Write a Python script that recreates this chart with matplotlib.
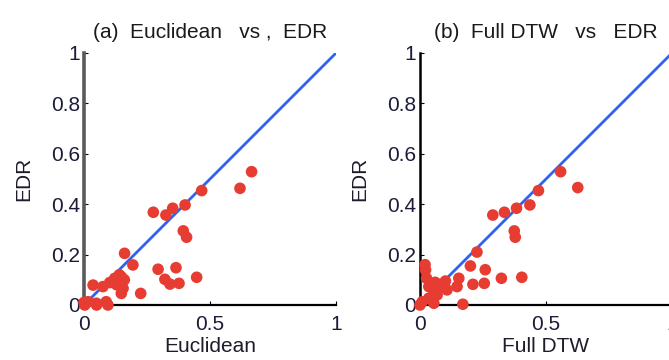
import matplotlib
matplotlib.use('Agg')
from matplotlib import pyplot as plt

plt.rcParams['font.family'] = ['Liberation Sans', 'DejaVu Sans']

# (a) Euclidean vs EDR
euc_x = [0.665, 0.619, 0.467, 0.401, 0.352, 0.325, 0.275, 0.394, 0.407, 0.161,
         0.194, 0.294, 0.365, 0.447, 0.321, 0.341, 0.377, 0.225, 0.036, 0.075,
         0.102, 0.122, 0.148, 0.135, 0.155, 0.148, 0.130, 0.016, 0.049, 0.088,
         0.003, 0.050, 0.095, 0.000, 0.160, 0.140]
euc_y = [0.529, 0.463, 0.454, 0.397, 0.384, 0.357, 0.368, 0.294, 0.269, 0.205,
         0.159, 0.142, 0.148, 0.110, 0.102, 0.083, 0.086, 0.046, 0.079, 0.073,
         0.089, 0.106, 0.112, 0.086, 0.066, 0.046, 0.080, 0.013, 0.007, 0.013,
         0.000, 0.000, 0.000, 0.010, 0.100, 0.120]

# (b) Full DTW vs EDR
dtw_x = [0.558, 0.626, 0.470, 0.436, 0.383, 0.335, 0.289, 0.374, 0.378, 0.226,
         0.200, 0.259, 0.323, 0.404, 0.210, 0.255, 0.170, 0.154, 0.147, 0.022,
         0.026, 0.035, 0.055, 0.081, 0.101, 0.107, 0.068, 0.035, 0.009, 0.000,
         0.055, 0.020, 0.090, 0.060]
dtw_y = [0.529, 0.466, 0.454, 0.397, 0.384, 0.368, 0.357, 0.294, 0.269, 0.210,
         0.155, 0.140, 0.106, 0.110, 0.082, 0.086, 0.003, 0.106, 0.073, 0.139,
         0.106, 0.073, 0.060, 0.082, 0.095, 0.060, 0.040, 0.027, 0.013, 0.000,
         0.007, 0.160, 0.070, 0.090]

diag = [0, 1]
xticks = [0, 0.5, 1]
xticklabels = ['0', '0.5', '1']
yticks = [0, 0.2, 0.4, 0.6, 0.8, 1]
yticklabels = ['0', '0.2', '0.4', '0.6', '0.8', '1']

panels = [
    ('(a)  Euclidean   vs ,  EDR', 'Euclidean', euc_x, euc_y, 84, '#5a5a5a', 2.6),
    ('(b)  Full DTW   vs   EDR', 'Full DTW', dtw_x, dtw_y, 420, 'black', 1.8),
]

W, H = 669, 360
fig = plt.figure(figsize=(W / 100, H / 100), dpi=100)
tcol = '#1c1c3a'
fs = 15

for title, xlab, xs, ys, left_px, spcol, splw in panels:
    ax = fig.add_axes([left_px / W, 55 / H, 252 / W, 252 / H])
    ax.plot(diag, diag, color='#2d62f5', linewidth=2, zorder=2)
    ax.scatter(xs, ys, s=70, color='#e63c32', edgecolors='none', zorder=3, clip_on=False)
    ax.set_xlim(0, 1)
    ax.set_ylim(0, 1)
    ax.spines['top'].set_visible(False)
    ax.spines['right'].set_visible(False)
    ax.spines['left'].set_color(spcol)
    ax.spines['left'].set_linewidth(splw)
    ax.spines['bottom'].set_linewidth(1.6)
    ax.set_xticks(xticks)
    ax.set_xticklabels(xticklabels)
    ax.set_yticks(yticks)
    ax.set_yticklabels(yticklabels)
    ax.tick_params(direction='in', length=3, width=0.8, labelsize=fs,
                   labelcolor=tcol, pad=3)
    ax.tick_params(axis='x', pad=7)
    ax.set_title(title, fontsize=fs, pad=11, color='#1a1a1a')
    ax.set_xlabel(xlab, fontsize=fs, color='#1c1c2a')
    ax.set_ylabel('EDR', fontsize=fs, color='#1c1c2a')
    ax.xaxis.set_label_coords(0.5, -0.125)
    ax.yaxis.set_label_coords(-0.2, 0.5)

fig.savefig('out.png', dpi=100)
